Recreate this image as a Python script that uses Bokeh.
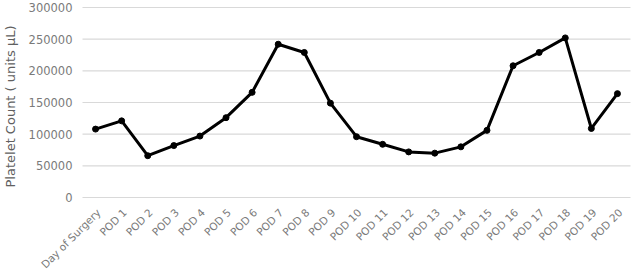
from bokeh.plotting import figure
from bokeh.models import Range1d, LabelSet, Label, ColumnDataSource
from bokeh.core.properties import value
from bokeh.embed import file_html
from bokeh.resources import INLINE
import math

days = ["Day of Surgery"] + [f"POD {i}" for i in range(1, 21)]
platelets = [108000, 121000, 66000, 82000, 97000, 126000, 166000, 242000, 229000, 149000,
             96000, 84000, 72000, 70000, 80000, 106000, 208000, 229000, 252000, 109000, 164000]
y_ticks = [0, 50000, 100000, 150000, 200000, 250000, 300000]
y_tick_labels = [str(v) for v in y_ticks]
y_title = "Platelet Count ( units µL)"

# layout (pixels): plotting area inside the figure, labels drawn around it
W, H = 632, 270
L, R, T, B = 82, 630, 7, 197
n = len(days)
s = (R - L) / n
ky = (B - T) / y_ticks[-1]
xs = list(range(n))

p = figure(width=W, height=H,
           x_range=Range1d(-0.5 - L / s, n - 0.5 + (W - R) / s),
           y_range=Range1d(-(H - B) / ky, y_ticks[-1] + T / ky),
           output_backend="svg", toolbar_location=None,
           min_border_left=0, min_border_right=0, min_border_top=0, min_border_bottom=0)
p.xaxis.visible = False
p.yaxis.visible = False
p.xgrid.grid_line_color = None
p.ygrid.grid_line_color = None
p.outline_line_color = None

# horizontal gridlines across the category span
p.segment(x0=[-0.5] * len(y_ticks), x1=[n - 0.5] * len(y_ticks), y0=y_ticks, y1=y_ticks,
          line_color="#d9d9d9", line_width=1.2)

p.line(x=xs, y=platelets, line_color="black", line_width=3, line_join="round")
p.scatter(x=xs, y=platelets, size=6, color="black")

tick_color = "#7a7a7a"

# y tick labels
ysrc = ColumnDataSource(dict(x=[-0.5] * len(y_ticks), y=y_ticks, text=y_tick_labels))
p.add_layout(LabelSet(x="x", y="y", text="text", source=ysrc,
                      text_align="right", text_baseline="middle", x_offset=-10,
                      text_font=value("DejaVu Sans"), text_font_size=value("11.5px"),
                      text_color=value(tick_color)))

# x category labels, rotated 45 degrees
xsrc = ColumnDataSource(dict(x=xs, y=[0] * n, text=days))
p.add_layout(LabelSet(x="x", y="y", text="text", source=xsrc,
                      angle=math.pi / 4, text_align="right", text_baseline="middle",
                      x_offset=3, y_offset=-13,
                      text_font=value("DejaVu Sans"), text_font_size=value("10.5px"),
                      text_color=value(tick_color)))

# y axis title
p.add_layout(Label(x=-0.5, y=y_ticks[-1] / 2, text=y_title, angle=math.pi / 2,
                   x_offset=-(L - 10), y_offset=-4,
                   text_align="center", text_baseline="middle",
                   text_font="DejaVu Sans", text_font_size="13px",
                   text_color="#606060"))

open("out.html", "w").write(file_html(p, INLINE))
